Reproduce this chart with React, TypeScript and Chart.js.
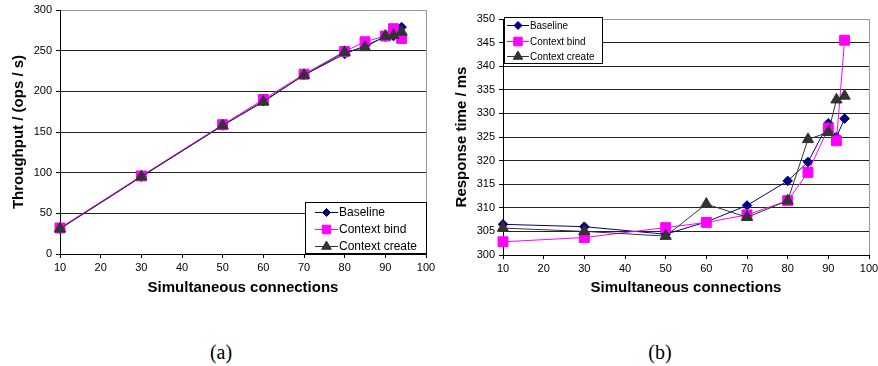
import React, { useEffect, useRef } from 'react';
import { Chart, registerables } from 'chart.js';
import { drawPoint } from 'chart.js/helpers';

Chart.register(...registerables);

// ---- data ----
const connections = [10, 30, 50, 60, 70, 80, 85, 90, 92, 94];
const seriesNames = ['Baseline', 'Context bind', 'Context create'];

const throughputBaseline = [31, 95, 158, 188, 220, 246, 256, 267, 268, 279];
const throughputBind = [32, 96, 159, 190, 221, 249, 261, 268, 277, 265];
const throughputCreate = [31, 95, 158, 187, 220, 248, 254, 268, 269, 273];

const responseBaseline = [306.5, 306.0, 304.4, 307.0, 310.5, 315.7, 319.7, 327.9, 325.0, 328.9];
const responseBind = [302.8, 303.7, 305.8, 306.9, 308.5, 311.5, 317.5, 326.9, 324.2, 345.5];
const responseCreate = [305.7, 305.0, 304.0, 310.8, 308.0, 311.5, 324.5, 326.0, 332.9, 333.7];

const xTitle = 'Simultaneous connections';
const yTitleA = 'Throughput / (ops / s)';
const yTitleB = 'Response time / ms';

// ---- styles ----
const FONT = "'Liberation Sans', Arial, sans-serif";
const colors = ['#000080', '#ff00ff', '#333333'];
const pointStyles = ['rectRot', 'rect', 'triangle'];
const pointRadii = [4.8, 7, 6.5];
const legendRadii = [4, 6, 5.5];

const excelLegend = {
  id: 'excelLegend',
  afterDatasetsDraw(chart: any, _args: any, opts: any) {
    const { ctx } = chart;
    const { left, top, width, height, rowHeight, lineLength, fontSize, padX, padY, textScale } = opts;
    ctx.save();
    ctx.fillStyle = '#fff';
    ctx.fillRect(left, top, width, height);
    ctx.strokeStyle = '#000';
    ctx.lineWidth = 1;
    ctx.strokeRect(left + 0.5, top + 0.5, width, height);
    chart.data.datasets.forEach((ds: any, i: number) => {
      const y = Math.round(top + padY + rowHeight * i + rowHeight / 2) + 0.5;
      const x0 = left + padX;
      ctx.strokeStyle = ds.borderColor;
      ctx.lineWidth = 1;
      ctx.beginPath();
      ctx.moveTo(x0, y);
      ctx.lineTo(x0 + lineLength, y);
      ctx.stroke();
      ctx.fillStyle = ds.pointBackgroundColor;
      ctx.strokeStyle = ds.pointBorderColor;
      drawPoint(ctx, { pointStyle: ds.pointStyle, rotation: 0, radius: legendRadii[i], borderWidth: 1 } as any, x0 + lineLength / 2, y);
      ctx.save();
      ctx.fillStyle = '#000';
      ctx.font = `${fontSize}px ${FONT}`;
      ctx.textBaseline = 'middle';
      ctx.textAlign = 'left';
      ctx.translate(x0 + lineLength + 1, y);
      ctx.scale(textScale, 1);
      ctx.fillText(ds.label, 0, 0);
      ctx.restore();
    });
    ctx.restore();
  },
};

const plotBorder = {
  id: 'plotBorder',
  beforeDatasetsDraw(chart: any) {
    const { ctx, chartArea } = chart;
    ctx.save();
    ctx.strokeStyle = '#999';
    ctx.lineWidth = 1;
    ctx.beginPath();
    const x = Math.round(chartArea.right) + 0.5;
    ctx.moveTo(x, chartArea.top);
    ctx.lineTo(x, chartArea.bottom);
    ctx.stroke();
    ctx.restore();
  },
};

function makeDatasets(series: number[][]) {
  return series.map((vals, i) => ({
    label: seriesNames[i],
    data: connections.map((x, j) => ({ x, y: vals[j] })),
    borderColor: colors[i],
    backgroundColor: colors[i],
    pointBackgroundColor: colors[i],
    pointBorderColor: colors[i],
    pointStyle: pointStyles[i],
    pointRadius: pointRadii[i],
    pointBorderWidth: 1,
    borderWidth: 1,
    tension: 0,
    clip: false,
    order: 3 - i,
  }));
}

function makeConfig(p: any) {
  return {
    type: 'line',
    data: { datasets: makeDatasets(p.series) },
    plugins: [plotBorder, excelLegend],
    options: {
      responsive: false,
      animation: false,
      layout: { padding: { left: 0, right: p.padRight, top: p.padTop, bottom: 0 } },
      plugins: {
        legend: { display: false },
        tooltip: { enabled: false },
        excelLegend: p.legend,
      },
      scales: {
        x: {
          type: 'linear',
          min: 10,
          max: 100,
          ticks: { stepSize: 10, color: '#000', font: { family: FONT, size: 11 }, padding: 3, maxRotation: 0 },
          grid: { drawOnChartArea: false, drawTicks: true, tickLength: 4, tickColor: '#000' },
          border: { color: '#000', width: 1 },
          title: {
            display: true,
            text: xTitle,
            color: '#000',
            font: { family: FONT, size: 15, weight: 'bold' },
            padding: { top: 0, bottom: p.xTitlePad },
          },
          afterFit(scale: any) {
            scale.height = p.xHeight;
            scale.paddingLeft = 0;
            scale.paddingRight = 0;
          },
        },
        y: {
          type: 'linear',
          min: p.yMin,
          max: p.yMax,
          ticks: { stepSize: p.yStep, color: '#000', font: { family: FONT, size: 11 }, padding: 4 },
          grid: {
            color: (c: any) => (c.tick && c.tick.value === p.yMax ? '#999' : '#222'),
            tickColor: '#000',
            tickLength: 4,
            lineWidth: 1,
          },
          border: { color: '#000', width: 1 },
          title: {
            display: true,
            text: p.yTitle,
            color: '#000',
            font: { family: FONT, size: 15, weight: 'bold' },
            padding: { top: p.yTitlePad, bottom: 0 },
          },
          afterFit(scale: any) {
            scale.width = p.yWidth;
            scale.paddingTop = 0;
            scale.paddingBottom = 0;
          },
        },
      },
    },
  };
}

function ChartBox({ params, width, height }: { params: any; width: number; height: number }) {
  const ref = useRef<HTMLCanvasElement | null>(null);
  useEffect(() => {
    if (!ref.current) return;
    const chart = new Chart(ref.current, makeConfig(params) as any);
    return () => chart.destroy();
  }, []);
  return <canvas ref={ref} width={width} height={height} style={{ display: 'block', width, height }} />;
}

const paramsA = {
  series: [throughputBaseline, throughputBind, throughputCreate],
  yMin: 0,
  yMax: 300,
  yStep: 50,
  yTitle: yTitleA,
  yWidth: 60,
  xHeight: 46,
  padTop: 10,
  padRight: 14,
  yTitlePad: 10,
  xTitlePad: 3,
  legend: { left: 305, top: 202, width: 121, height: 51, rowHeight: 17, padY: 1.5, padX: 10, lineLength: 23, fontSize: 12, textScale: 1 },
};

const paramsB = {
  series: [responseBaseline, responseBind, responseCreate],
  yMin: 300,
  yMax: 350,
  yStep: 5,
  yTitle: yTitleB,
  yWidth: 63,
  xHeight: 45,
  padTop: 19,
  padRight: 9,
  yTitlePad: 13,
  xTitlePad: 3,
  legend: { left: 64, top: 17, width: 98, height: 46, rowHeight: 15.5, padY: 0.5, padX: 3, lineLength: 22, fontSize: 11, textScale: 0.9 },
};

export default function App() {
  return (
    <div style={{ position: 'absolute', left: 0, top: 0, width: 878, height: 366, background: '#fff', overflow: 'hidden' }}>
      <div style={{ position: 'absolute', left: 0, top: 0, width: 440, height: 300 }}>
        <ChartBox params={paramsA} width={440} height={300} />
      </div>
      <div style={{ position: 'absolute', left: 440, top: 0, width: 438, height: 300 }}>
        <ChartBox params={paramsB} width={438} height={300} />
      </div>
      <div style={{ position: 'absolute', left: 171, top: 338, width: 100, textAlign: 'center', fontFamily: "'Liberation Serif', 'Times New Roman', serif", fontSize: 20, lineHeight: '28px' }}>(a)</div>
      <div style={{ position: 'absolute', left: 610, top: 338, width: 100, textAlign: 'center', fontFamily: "'Liberation Serif', 'Times New Roman', serif", fontSize: 20, lineHeight: '28px' }}>(b)</div>
    </div>
  );
}
